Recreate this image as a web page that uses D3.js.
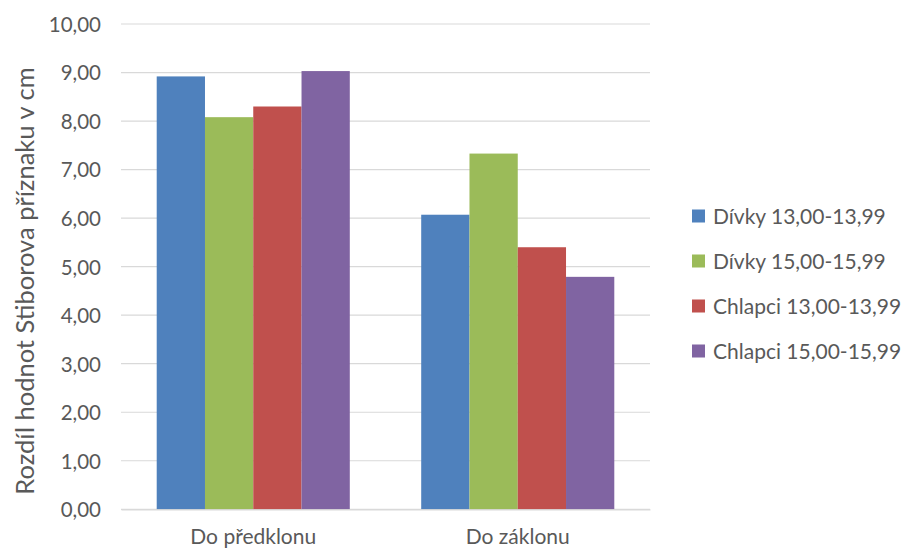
<!DOCTYPE html>
<html>
<head>
<meta charset="utf-8">
<script src="https://cdn.jsdelivr.net/npm/d3@7"></script>
<style>
  html, body { margin: 0; padding: 0; background: #fff; }
  svg { display: block; font-family: Lato, "Open Sans", sans-serif; }
</style>
</head>
<body>
<svg id="chart" width="905" height="549"></svg>
<script>
// Categories and series
const categories = ["Do předklonu", "Do záklonu"];
const seriesNames = ["Dívky 13,00-13,99", "Dívky 15,00-15,99", "Chlapci 13,00-13,99", "Chlapci 15,00-15,99"];
const seriesColors = ["#4f81bd", "#9bbb59", "#c0504d", "#8064a2"];
const divky13 = [8.92, 6.07];
const divky15 = [8.08, 7.33];
const chlapci13 = [8.30, 5.40];
const chlapci15 = [9.03, 4.79];
const yTicks = [0, 1, 2, 3, 4, 5, 6, 7, 8, 9, 10];
const yTitle = "Rozdíl hodnot Stiborova příznaku v cm";

const seriesValues = [divky13, divky15, chlapci13, chlapci15];

const svg = d3.select("#chart");
const plot = { left: 121, right: 650, top: 24, bottom: 509.3 };
const textColor = "#595959";
const fmt = v => d3.format(".2f")(v).replace(".", ",");

const y = d3.scaleLinear().domain([0, 10]).range([plot.bottom, plot.top]);
const x0 = d3.scaleBand().domain(categories)
  .range([plot.left, plot.right]).paddingInner(0.27).paddingOuter(0.135);
const x1 = d3.scaleBand().domain(seriesNames).range([0, x0.bandwidth()]);

// Gridlines
svg.append("g").selectAll("line").data(yTicks).join("line")
  .attr("x1", plot.left).attr("x2", plot.right)
  .attr("y1", d => y(d)).attr("y2", d => y(d))
  .attr("stroke", "#d9d9d9").attr("stroke-width", 1.2);

// Y axis labels
const yAxis = d3.axisLeft(y).tickValues(yTicks).tickFormat(fmt).tickSize(0).tickPadding(0);
const yg = svg.append("g").attr("transform", `translate(101,0)`).call(yAxis);
yg.select(".domain").remove();
yg.selectAll("text").attr("fill", textColor).style("font-size", "20.5px")
  .style("font-family", "Lato, sans-serif").attr("dy", "0.36em");

// Bars
const groups = svg.append("g").selectAll("g").data(categories).join("g")
  .attr("transform", d => `translate(${x0(d)},0)`);
groups.selectAll("rect")
  .data((c, ci) => seriesNames.map((s, si) => ({ s, si, v: seriesValues[si][ci] })))
  .join("rect")
  .attr("x", d => x1(d.s))
  .attr("width", x1.bandwidth())
  .attr("y", d => y(d.v))
  .attr("height", d => y(0) - y(d.v))
  .attr("fill", d => seriesColors[d.si]);

// Category axis
const xAxis = d3.axisBottom(x0).tickSize(0).tickPadding(0);
const xg = svg.append("g").attr("transform", `translate(0,${plot.bottom})`).call(xAxis);
xg.select(".domain").attr("stroke", "#d9d9d9").attr("stroke-width", 1.2);
xg.selectAll("text").attr("fill", textColor).style("font-size", "21px")
  .style("font-family", "Lato, sans-serif").attr("dy", null).attr("y", 34.5);

// Y axis title
svg.append("text")
  .attr("transform", "translate(34,281) rotate(-90)")
  .attr("text-anchor", "middle")
  .attr("fill", textColor)
  .style("font-size", "25.5px")
  .text(yTitle);

// Legend
const legend = svg.append("g").selectAll("g").data(seriesNames).join("g")
  .attr("transform", (d, i) => `translate(692,${216 + i * 45})`);
legend.append("rect").attr("x", 0).attr("y", -6.5).attr("width", 13).attr("height", 13)
  .attr("fill", (d, i) => seriesColors[i]);
legend.append("text").attr("x", 21).attr("dy", "0.36em")
  .attr("fill", textColor).style("font-size", "21px").text(d => d);
</script>
</body>
</html>
